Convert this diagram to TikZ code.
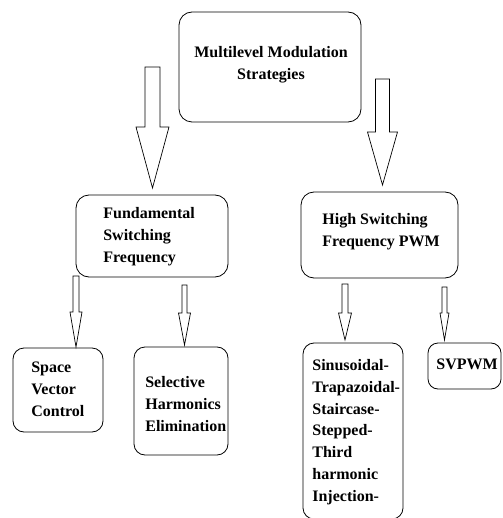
\documentclass[tikz,border=0pt]{standalone}
\usepackage{fontspec}
\setmainfont{Liberation Serif}

% hollow block arrow pointing down: start, shaft length, head length, shaft half width, head half width
\newcommand{\hollowarrow}[5]{%
  \draw (#1) ++(-#4,0) -- ++(0,#2) -- ++(#4-#5,0) -- ++(#5,#3) -- ++(#5,-#3)
    -- ++(#4-#5,0) -- ++(0,-#2) -- cycle;}

\tikzset{
  box/.style={draw, line width=0.8pt, rounded corners=13pt},
  label/.style={inner sep=0pt, font=\bfseries\fontsize{16}{22}\selectfont, align=left}
}

\begin{document}
\begin{tikzpicture}[x=1pt, y=-1pt, line width=0.7pt]
  \clip (0,0) rectangle (502,518);

  % boxes
  \draw[box] (179,12) rectangle (361,122);
  \node (top) [label, align=center, anchor=north] at (271,46) {Multilevel Modulation\\Strategies};

  \draw[box] (76,195) rectangle (228,277);
  \node (fund) [label, anchor=north west] at (103,207) {Fundamental\\Switching\\Frequency};

  \draw[box] (301,192) rectangle (458,278);
  \node (high) [label, anchor=north west] at (322,213) {High Switching\\Frequency PWM};

  \draw[box, rounded corners=11pt] (13,348) rectangle (103,432);
  \node (svc) [label, anchor=north west] at (31,362) {Space\\Vector\\Control};

  \draw[box, rounded corners=11pt] (134,347) rectangle (228,455);
  \node (she) [label, anchor=north west] at (145,376) {Selective\\Harmonics\\Elimination};

  \draw[box, rounded corners=11pt] (303,343) rectangle (403,519);
  \node (sin) [label, anchor=north west, font=\bfseries\fontsize{16}{21.8}\selectfont] at (312,359)
    {Sinusoidal-\\Trapazoidal-\\Staircase-\\Stepped-\\Third\\harmonic\\Injection-};

  \draw[box, rounded corners=10pt] (428,343) rectangle (501,389);
  \node (svpwm) [label, anchor=north west] at (436,359) {SVPWM};

  % arrows
  \coordinate (arrA) at (152.5,67);
  \coordinate (arrB) at (382.5,79);
  \coordinate (arrC) at (76,276);
  \coordinate (arrD) at (184.5,285);
  \coordinate (arrE) at (345,284);
  \coordinate (arrF) at (444.5,287);
  \hollowarrow{arrA}{60}{61}{7.5}{16.5}
  \hollowarrow{arrB}{53}{53}{7}{15}
  \hollowarrow{arrC}{36}{35}{3}{6}
  \hollowarrow{arrD}{28}{32}{2.5}{6}
  \hollowarrow{arrE}{29}{27}{3}{6.5}
  \hollowarrow{arrF}{26}{27}{2.5}{4.5}
\end{tikzpicture}
\end{document}
